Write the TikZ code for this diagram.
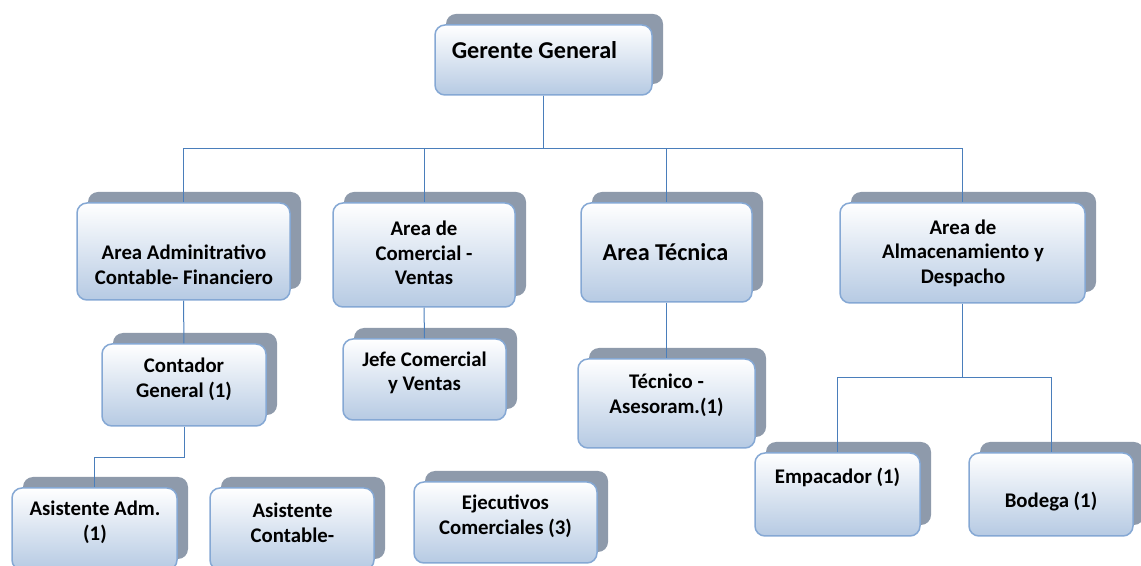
\documentclass[tikz,border=0pt]{standalone}
\usepackage{fontspec}
\setmainfont{Carlito}
\usetikzlibrary{shadows}

\definecolor{shadowgray}{RGB}{142,154,171}
\definecolor{boxline}{RGB}{133,168,212}
\definecolor{boxfill}{RGB}{182,202,227}
\definecolor{linkblue}{RGB}{74,126,187}

\tikzset{
  box/.style 2 args={rounded corners=5pt, draw=boxline, line width=0.75pt,
    top color=white, bottom color=boxfill, inner sep=0pt,
    minimum width=#1*0.5pt, minimum height=#2*0.5pt,
    drop shadow={shadow xshift=5.5pt, shadow yshift=5.5pt, fill=shadowgray, opacity=1}},
  txt/.style={font=\bfseries\fontsize{10.4}{12.3}\selectfont, align=center, inner sep=0pt},
  big/.style={font=\bfseries\fontsize{12.1}{14}\selectfont},
  link/.style={draw=linkblue, line width=0.5pt}
}

\begin{document}
\begin{tikzpicture}[x=0.5pt,y=-0.5pt]
		\clip (0,0) rectangle (1141,566);
		% cajas
		\node[box={217}{70}] (ger) at (543.5,60) {};
		\node[box={213}{97}] (adm) at (183.5,251.5) {};
		\node[box={182}{104}] (com) at (424,255) {};
		\node[box={171}{99}] (tec) at (666.5,252.5) {};
		\node[box={245}{100}] (alm) at (962.5,253) {};
		\node[box={164}{82}] (con) at (184,385) {};
		\node[box={163}{81}] (jef) at (424.5,379.5) {};
		\node[box={177}{89}] (tas) at (666.5,403.5) {};
		\node[box={165}{82}] (aad) at (94.5,529) {};
		\node[box={164}{82}] (aco) at (292,529) {};
		\node[box={183}{81}] (eje) at (505.5,522.5) {};
		\node[box={165}{83}] (emp) at (837.5,494.5) {};
		\node[box={164}{83}] (bod) at (1051,494.5) {};
		% textos
		\node[txt,big] (ger-t) at (534.5,50) {Gerente General};
		\node[txt] (adm-t) at (184,265) {Area Adminitrativo\\Contable- Financiero};
		\node[txt] (com-t) at (424,253) {Area de\\Comercial -\\Ventas};
		\node[txt,big] (tec-t) at (665.5,252) {Area Técnica};
		\node[txt] (alm-t) at (963,253) {Area de\\Almacenamiento y\\Despacho};
		\node[txt] (con-t) at (184,379) {Contador\\General (1)};
		\node[txt] (jef-t) at (424.5,373) {Jefe Comercial\\y Ventas};
		\node[txt] (tas-t) at (666.5,395) {Técnico -\\Asesoram.(1)};
		\node[txt] (aad-t) at (95,522.5) {Asistente Adm.\\(1)};
		\node[txt] (aco-t) at (292.5,522.5) {Asistente\\Contable-};
		\node[txt] (eje-t) at (505.5,516.5) {Ejecutivos\\Comerciales (3)};
		\node[txt] (emp-t) at (837.5,477) {Empacador (1)};
		\node[txt] (bod-t) at (1051,502) {Bodega (1)};
		% lineas
		\foreach \n in {adm,com,tec,alm}{
			\draw[link] (ger.south) -- ++(0,53) -| (\n.north);
		}
		\draw[link] (adm.south) -- (con.north);
		\draw[link] (com.south) -- (jef.north);
		\draw[link] (tec.south) -- (tas.north);
		\draw[link] (con.south) -- ++(0,31) -| (aad.north);
		\foreach \n in {emp,bod}{
			\draw[link] (alm.south) -- ++(0,74) -| (\n.north);
		}
\end{tikzpicture}
\end{document}
